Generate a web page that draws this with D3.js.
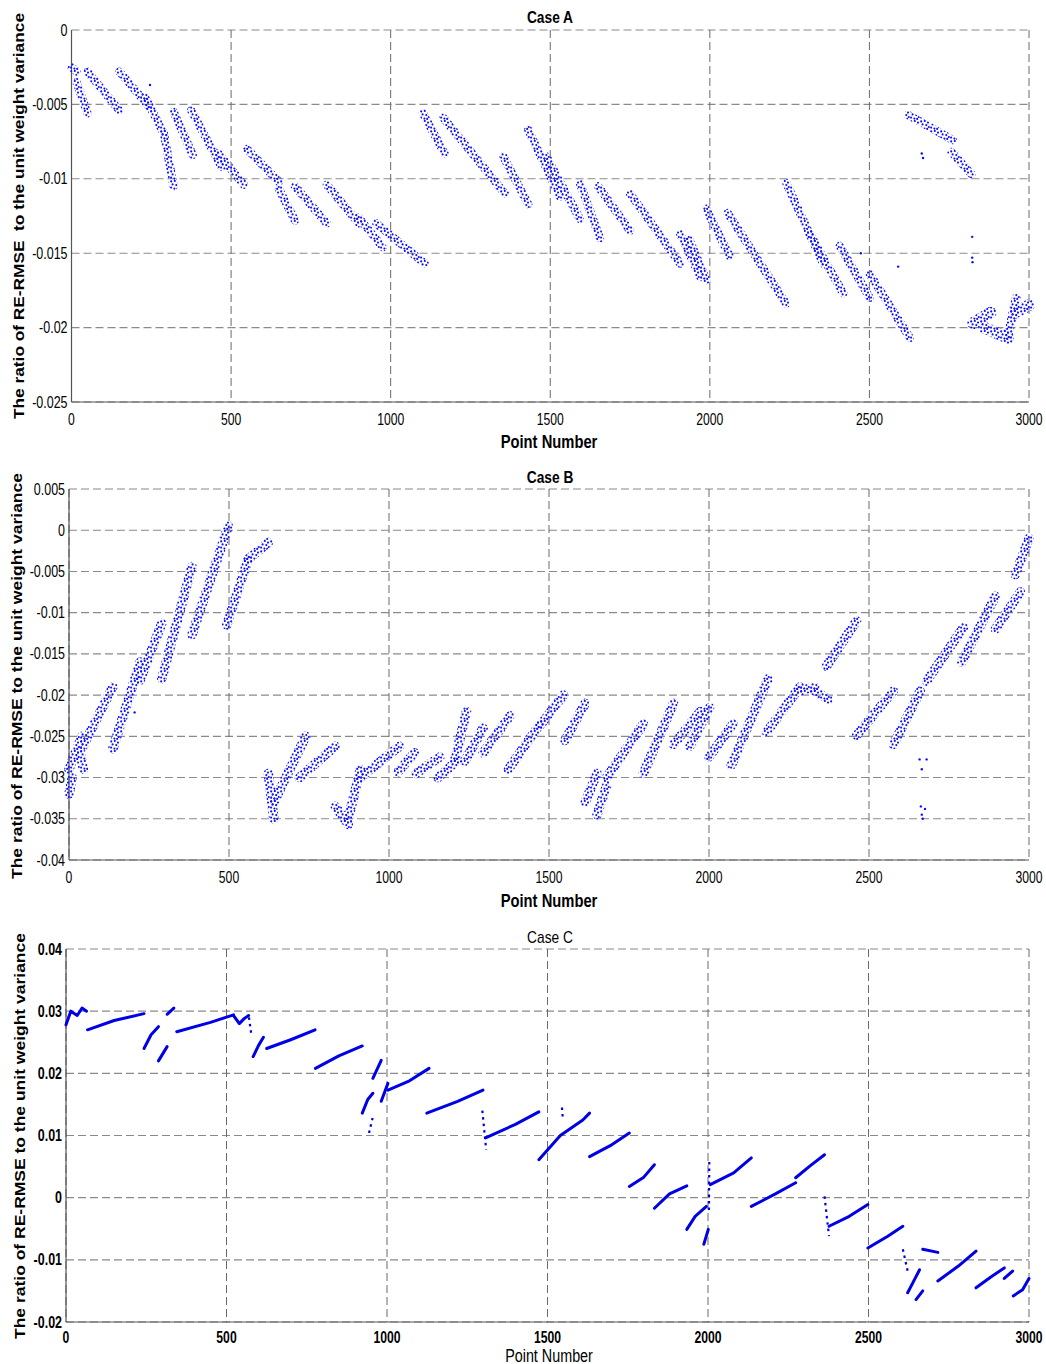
<!DOCTYPE html>
<html>
<head>
<meta charset="utf-8">
<title>RE-RMSE ratio, Case A/B/C</title>
<script src="https://cdn.jsdelivr.net/npm/d3@7"></script>
<style>
  body { margin: 0; background: #fff; }
  svg text { font-family: "Liberation Sans", Arial, sans-serif; fill: #000; white-space: pre; }
</style>
</head>
<body>
<svg id="chart" width="1046" height="1364"></svg>
<script>
// ---- data ----
var xTicks = [0, 500, 1000, 1500, 2000, 2500, 3000];
var xTickLabels = ["0", "500", "1000", "1500", "2000", "2500", "3000"];

var yTicksA = [0, -0.005, -0.01, -0.015, -0.02, -0.025];
var yTickLabelsA = ["0", "-0.005", "-0.01", "-0.015", "-0.02", "-0.025"];
var yTicksB = [0.005, 0, -0.005, -0.01, -0.015, -0.02, -0.025, -0.03, -0.035, -0.04];
var yTickLabelsB = ["0.005", "0", "-0.005", "-0.01", "-0.015", "-0.02", "-0.025", "-0.03", "-0.035", "-0.04"];
var yTicksC = [0.04, 0.03, 0.02, 0.01, 0, -0.01, -0.02];
var yTickLabelsC = ["0.04", "0.03", "0.02", "0.01", "0", "-0.01", "-0.02"];

// point clouds as runs: [x0, y0, x1, y1] (optional 5th = half spread)
var caseA = [
  [0,-0.0025,16,-0.0028], [16,-0.0035,50,-0.0056], [50,-0.0028,150,-0.0054],
  [150,-0.0028,245,-0.0052], [230,-0.0045,290,-0.0070], [290,-0.0070,320,-0.0105],
  [320,-0.0055,380,-0.0084], [375,-0.0054,470,-0.0092], [460,-0.0083,540,-0.0104],
  [550,-0.0080,650,-0.0102], [650,-0.0107,700,-0.0128], [700,-0.0105,800,-0.0130],
  [800,-0.0104,900,-0.0130], [900,-0.0126,975,-0.0146], [955,-0.0130,1107,-0.0157],
  [1101,-0.0056,1169,-0.0083], [1165,-0.0059,1358,-0.0110], [1353,-0.0085,1431,-0.0117],
  [1431,-0.0067,1530,-0.0112], [1488,-0.0085,1593,-0.0127], [1593,-0.0103,1656,-0.0140],
  [1650,-0.0105,1750,-0.0135], [1750,-0.0110,1907,-0.0157], [1907,-0.0137,1970,-0.0166],
  [1936,-0.0141,1989,-0.0168], [1988,-0.0120,2062,-0.0152], [2056,-0.0123,2239,-0.0184],
  [2240,-0.0103,2355,-0.0157], [2313,-0.0137,2418,-0.0177], [2407,-0.0145,2501,-0.0180],
  [2501,-0.0164,2627,-0.0207], [2621,-0.0057,2762,-0.0074], [2757,-0.0082,2820,-0.0097],
  [2825,-0.0197,2880,-0.0190,0.0004], [2860,-0.0200,2935,-0.0207,0.0004],
  [2935,-0.0205,2960,-0.0180,0.0003], [2955,-0.0190,3000,-0.0185,0.0004]
];
var caseADots = [[246,-0.0037],[2664,-0.0083],[2668,-0.0086],[2822,-0.0139],[2822,-0.0153],
  [2823,-0.0156],[2473,-0.0150],[2590,-0.0159]];

var caseB = [
  [0,-0.0290,40,-0.0250], [0,-0.0320,10,-0.0300], [35,-0.0270,45,-0.0290],
  [44,-0.0262,137,-0.0190], [137,-0.0265,222,-0.0160], [222,-0.0182,290,-0.0113],
  [290,-0.0180,384,-0.0044], [384,-0.0127,498,0.0005], [493,-0.0115,560,-0.0035],
  [560,-0.0035,623,-0.0015], [623,-0.0295,640,-0.0350], [640,-0.0330,740,-0.0250],
  [720,-0.0300,832,-0.0262], [832,-0.0335,873,-0.0357], [873,-0.0350,910,-0.0290],
  [910,-0.0300,1033,-0.0262], [1028,-0.0293,1080,-0.0270], [1085,-0.0295,1159,-0.0275],
  [1153,-0.0300,1211,-0.0280], [1206,-0.0278,1242,-0.0220], [1237,-0.0280,1294,-0.0240],
  [1294,-0.0270,1378,-0.0225], [1373,-0.0290,1472,-0.0235], [1472,-0.0237,1545,-0.0200],
  [1550,-0.0255,1613,-0.0210], [1613,-0.0330,1650,-0.0295], [1650,-0.0345,1680,-0.0310],
  [1680,-0.0300,1795,-0.0235], [1795,-0.0295,1889,-0.0210], [1889,-0.0260,1973,-0.0220],
  [1940,-0.0262,2002,-0.0215], [2000,-0.0275,2075,-0.0235], [2070,-0.0285,2185,-0.0180],
  [2180,-0.0245,2284,-0.0190], [2284,-0.0195,2330,-0.0190], [2330,-0.0195,2373,-0.0205],
  [2367,-0.0165,2461,-0.0110], [2461,-0.0249,2576,-0.0195], [2576,-0.0260,2660,-0.0195],
  [2680,-0.0183,2795,-0.0118], [2790,-0.0160,2895,-0.0080], [2895,-0.0120,2973,-0.0075],
  [2957,-0.0054,3000,-0.0010]
];
var caseBDots = [[205,-0.0221],[2658,-0.0278],[2665,-0.0290],[2680,-0.0278],
  [2662,-0.0335],[2665,-0.0345],[2668,-0.0350],[2675,-0.0338]];

// case C: dense thin traces (polylines) and sparse dotted pieces
var caseC = [
  [[0,0.0278],[15,0.0300],[35,0.0293],[50,0.0305],[64,0.0300]],
  [[67,0.0270],[150,0.0285],[243,0.0296]],
  [[243,0.0240],[265,0.0262],[288,0.0275]],
  [[288,0.0220],[315,0.0243]],
  [[315,0.0295],[336,0.0305]],
  [[345,0.0267],[450,0.0282],[522,0.0294]],
  [[522,0.0293],[540,0.0280],[555,0.0288],[569,0.0293]],
  [[583,0.0227],[600,0.0245],[615,0.0258]],
  [[625,0.0240],[700,0.0254],[776,0.0270]],
  [[777,0.0208],[850,0.0228],[923,0.0244]],
  [[923,0.0136],[940,0.0158],[956,0.0168]],
  [[956,0.0192],[982,0.0221]],
  [[982,0.0155],[1003,0.0184]],
  [[1003,0.0173],[1070,0.0188],[1131,0.0208]],
  [[1124,0.0136],[1220,0.0155],[1299,0.0173]],
  [[1307,0.0096],[1400,0.0118],[1473,0.0138]],
  [[1473,0.0061],[1540,0.0100],[1610,0.0125],[1631,0.0136]],
  [[1631,0.0066],[1700,0.0085],[1755,0.0104]],
  [[1755,0.0018],[1800,0.0033],[1833,0.0053]],
  [[1833,-0.0017],[1880,0.0006],[1934,0.0019]],
  [[1934,-0.0051],[1960,-0.0030],[1995,-0.0014]],
  [[1987,-0.0075],[2001,-0.0051]],
  [[2007,0.0021],[2080,0.0040],[2135,0.0064]],
  [[2135,-0.0014],[2210,0.0006],[2273,0.0024]],
  [[2273,0.0032],[2320,0.0052],[2363,0.0069]],
  [[2377,-0.0046],[2440,-0.0030],[2498,-0.0011]],
  [[2498,-0.0081],[2560,-0.0062],[2607,-0.0046]],
  [[2622,-0.0153],[2640,-0.0135],[2659,-0.0116]],
  [[2648,-0.0164],[2669,-0.0150]],
  [[2669,-0.0083],[2716,-0.0088]],
  [[2716,-0.0134],[2780,-0.0110],[2835,-0.0086]],
  [[2835,-0.0145],[2880,-0.0128],[2923,-0.0113]],
  [[2923,-0.0130],[2949,-0.0118]],
  [[2951,-0.0158],[2980,-0.0148],[3000,-0.0130]]
];
var caseCSparse = [
  [[570,0.0290],[578,0.0260]],
  [[944,0.0104],[956,0.0130]],
  [[1297,0.0140],[1309,0.0077]],
  [[1545,0.0145],[1548,0.0125]],
  [[2003,-0.0020],[2004,0.0060]],
  [[2363,0.0002],[2377,-0.0062]],
  [[2607,-0.0083],[2622,-0.0118]]
];

// ---- drawing ----
var svg = d3.select("#chart");
var defs = svg.append("defs");
var pat = defs.append("pattern").attr("id", "dots")
  .attr("patternUnits", "userSpaceOnUse").attr("width", 10).attr("height", 10);
[[1.2,1.4],[4.8,1.0],[8.0,2.6],[2.6,4.4],[6.3,5.1],[8.8,7.0],[1.1,7.6],[4.4,8.6],[7.2,8.9]].forEach(function(c) {
  pat.append("circle").attr("cx", c[0]).attr("cy", c[1]).attr("r", 1.05).attr("fill", "#0c0cff");
});

// horizontally condensed label (the figure's text is narrow)
function label(g, x, y, txt, size, bold, anchor, k) {
  return g.append("g").attr("transform", "translate(" + x + "," + y + ") scale(" + k + ",1)")
    .append("text").attr("text-anchor", anchor).attr("font-size", size)
    .attr("font-weight", bold ? "bold" : "normal").text(txt);
}

function drawPanel(p) {
  var x = d3.scaleLinear().domain([0, 3000]).range([p.left, p.right]);
  var y = d3.scaleLinear().domain([p.yTicks[p.yTicks.length - 1], p.yTicks[0]]).range([p.bottom, p.top]);
  var g = svg.append("g");

  // grid
  g.selectAll("line.hg").data(p.yTicks).join("line")
    .attr("x1", p.left).attr("x2", p.right)
    .attr("y1", d => y(d)).attr("y2", d => y(d))
    .attr("stroke", "#8a8a8a").attr("stroke-width", 1.1).attr("stroke-dasharray", "8,4");
  g.selectAll("line.vg").data(xTicks).join("line")
    .attr("x1", d => x(d)).attr("x2", d => x(d))
    .attr("y1", p.top).attr("y2", p.bottom)
    .attr("stroke", "#6a6a6a").attr("stroke-width", 1).attr("stroke-dasharray", "8,4");
  // axes
  g.append("line").attr("x1", p.left).attr("x2", p.left).attr("y1", p.top).attr("y2", p.bottom)
    .attr("stroke", "#555").attr("stroke-width", 1.2);
  g.append("line").attr("x1", p.left).attr("x2", p.right).attr("y1", p.bottom).attr("y2", p.bottom)
    .attr("stroke", "#555").attr("stroke-width", 1.2);

  var line = d3.line().x(d => x(d[0])).y(d => y(d[1]));
  // point clouds: dotted pattern stroked along each run
  if (p.runs) {
    g.selectAll("path.run").data(p.runs).join("path")
      .attr("d", s => line([[s[0], s[1]], [s[2], s[3]]]))
      .attr("fill", "none").attr("stroke", "url(#dots)")
      .attr("stroke-width", s => 2 * (y(0) - y(s[4] || p.half)))
      .attr("stroke-linecap", "round");
  }
  if (p.dots) {
    g.selectAll("circle.pt").data(p.dots).join("circle")
      .attr("cx", d => x(d[0])).attr("cy", d => y(d[1])).attr("r", 1.2).attr("fill", "#0c0cff");
  }
  if (p.lines) {
    g.selectAll("path.trace").data(p.lines).join("path")
      .attr("d", line).attr("fill", "none").attr("stroke", "#0000e6")
      .attr("stroke-width", 3).attr("stroke-linecap", "round").attr("stroke-linejoin", "round");
  }
  if (p.sparse) {
    g.selectAll("path.sparse").data(p.sparse).join("path")
      .attr("d", line).attr("fill", "none").attr("stroke", "#0000e6")
      .attr("stroke-width", 2.2).attr("stroke-dasharray", "2.5,4");
  }

  // tick labels
  xTicks.forEach(function(d, i) {
    label(g, x(d), p.bottom + p.xTickDy, xTickLabels[i], 16, p.tickBold, "middle", 0.76);
  });
  p.yTicks.forEach(function(d, i) {
    label(g, p.left - 4, y(d) + 5.5, p.yTickLabels[i], 16, p.tickBold, "end", 0.78);
  });

  // titles
  label(g, 550, p.titleY, p.title, 16, p.titleBold, "middle", 0.86);
  label(g, 549, p.xLabelY, "Point Number", p.xLabelSize, p.titleBold, "middle", 0.82);
  g.append("text")
    .attr("transform", "translate(" + p.yLabelX + "," + p.yLabelMid + ") rotate(-90)")
    .attr("text-anchor", "middle").attr("font-size", 15).attr("font-weight", "bold")
    .attr("textLength", 406).attr("lengthAdjust", "spacingAndGlyphs").text(p.yLabel);
}

drawPanel({
  left: 71.5, right: 1029, top: 30, bottom: 402,
  yTicks: yTicksA, yTickLabels: yTickLabelsA,
  runs: caseA, half: 0.00028, dots: caseADots,
  title: "Case A", titleY: 23, xLabelY: 448, xLabelSize: 18, xTickDy: 23, titleBold: true, tickBold: false,
  yLabel: "The ratio of RE-RMSE  to the unit weight variance", yLabelX: 24, yLabelMid: 216
});
drawPanel({
  left: 69, right: 1029, top: 489, bottom: 860,
  yTicks: yTicksB, yTickLabels: yTickLabelsB,
  runs: caseB, half: 0.00058, dots: caseBDots,
  title: "Case B", titleY: 483, xLabelY: 907, xLabelSize: 18, xTickDy: 23, titleBold: true, tickBold: false,
  yLabel: "The ratio of RE-RMSE to the unit weight variance", yLabelX: 22, yLabelMid: 676
});
drawPanel({
  left: 66, right: 1029, top: 949, bottom: 1322,
  yTicks: yTicksC, yTickLabels: yTickLabelsC,
  lines: caseC, sparse: caseCSparse,
  title: "Case C", titleY: 943, xLabelY: 1362, xLabelSize: 17.5, xTickDy: 21, titleBold: false, tickBold: true,
  yLabel: "The ratio of RE-RMSE to the unit weight variance", yLabelX: 25, yLabelMid: 1136
});
</script>
</body>
</html>
